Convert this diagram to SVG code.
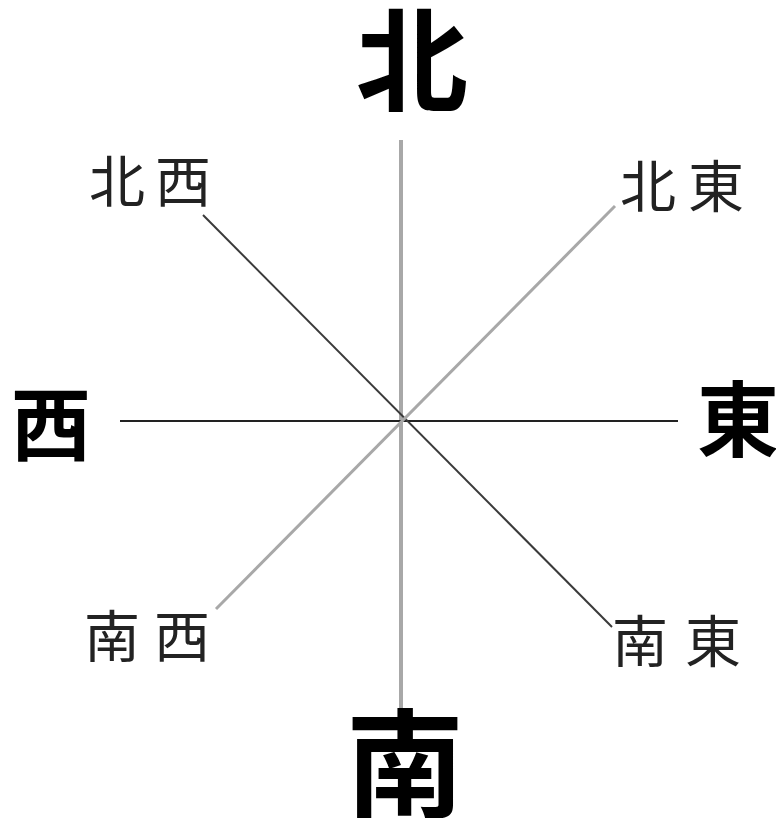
<svg xmlns="http://www.w3.org/2000/svg" width="776" height="818" viewBox="0 0 776 818">
<style>
.big{font-family:"Noto Sans CJK JP","Noto Sans CJK SC",sans-serif;font-weight:700;fill:#000;text-anchor:middle}
.small{font-family:"Noto Sans CJK JP","Noto Sans CJK SC",sans-serif;font-weight:400;fill:#222;text-anchor:middle;font-size:56px}
</style>
<rect width="776" height="818" fill="#fff"/>
<g id="connectors">
<line x1="401" y1="140" x2="401" y2="708" stroke="#a8a8a8" stroke-width="4"/>
<line x1="120" y1="421" x2="678" y2="421" stroke="#222" stroke-width="2"/>
<line x1="203" y1="215" x2="612" y2="627" stroke="#3a3a3a" stroke-width="2"/>
<line x1="615" y1="206" x2="216" y2="609" stroke="#a8a8a8" stroke-width="3"/>
</g>
<g id="north"><text class="big" x="412" y="103" font-size="112">北</text></g>
<g id="south"><text class="big" x="405" y="808" font-size="118">南</text></g>
<g id="west"><text class="big" x="51" y="454" font-size="80">西</text></g>
<g id="east"><text class="big" x="738" y="450" font-size="82">東</text></g>
<g id="northwest"><text class="small" y="202"><tspan x="117">北</tspan><tspan x="183">西</tspan></text></g>
<g id="northeast"><text class="small" y="207"><tspan x="648">北</tspan><tspan x="716">東</tspan></text></g>
<g id="southwest"><text class="small" y="657"><tspan x="112">南</tspan><tspan x="182">西</tspan></text></g>
<g id="southeast"><text class="small" y="662"><tspan x="640">南</tspan><tspan x="713">東</tspan></text></g>
</svg>
